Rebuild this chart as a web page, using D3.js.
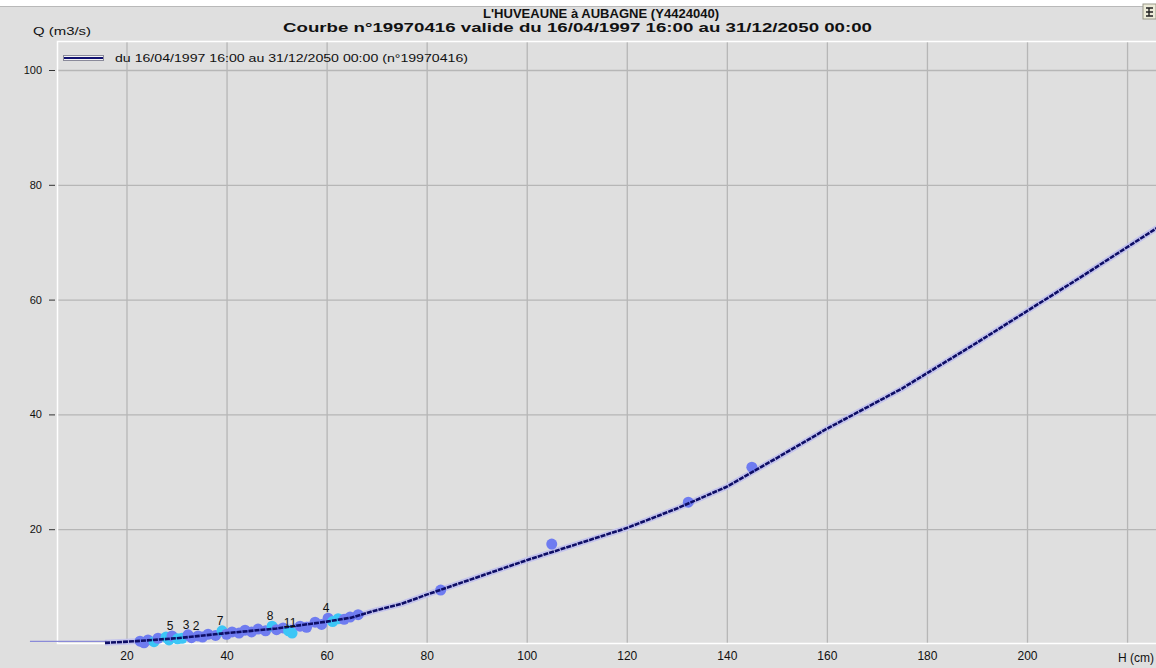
<!DOCTYPE html>
<html>
<head>
<meta charset="utf-8">
<script src="https://cdn.jsdelivr.net/npm/d3@7/dist/d3.min.js"></script>
<style>
  html, body { margin: 0; padding: 0; background: #dfdfdf; }
  svg { display: block; }
  text { font-family: "Liberation Sans", Arial, sans-serif; fill: #111; }
</style>
</head>
<body>
<svg id="chart" width="1156" height="668"></svg>
<script>
// Rating curve (hauteur H en cm -> débit Q en m3/s)
const curveH = [15.7, 22, 30, 40, 50, 60, 65, 70, 75, 80, 90, 100, 110, 120, 130, 140, 150, 160, 175, 190, 200, 210, 226];
const curveQ = [0.2, 0.5, 1.0, 1.9, 2.7, 3.9, 4.6, 5.9, 7.0, 8.6, 11.6, 14.6, 17.4, 20.2, 23.6, 27.4, 32.4, 37.5, 44.5, 52.5, 58.0, 63.5, 72.5];

// low-water extension of the curve
const extH = [0.7, 16];
const extQ = [0.45, 0.45];

// Jaugeages (gaugings): H, Q, kind, number
const gaugeH = [22.7, 23.5, 24.3, 25.5, 26.3, 27.9, 28.5, 29.1, 30.2, 31.1, 32.3, 33.0, 34.3, 35.2, 36.3, 37.8, 39.1, 40.0, 41.1, 42.5, 43.7, 45.0, 46.3, 47.8, 49.1, 50.0, 51.3, 52.4, 53.1, 54.7, 56.0, 57.7, 59.0, 60.3, 61.2, 62.3, 63.5, 64.7, 66.3, 82.8, 105.0, 132.3, 145.0];
const gaugeQ = [0.5, 0.2, 0.7, 0.4, 1.0, 1.2, 0.7, 1.4, 0.9, 1.0, 1.6, 1.1, 1.4, 1.2, 1.7, 1.5, 2.3, 1.7, 2.1, 1.9, 2.4, 2.1, 2.6, 2.3, 3.1, 2.5, 2.8, 2.3, 1.9, 3.1, 2.9, 3.8, 3.4, 4.5, 3.9, 4.4, 4.3, 4.7, 5.1, 9.4, 17.4, 24.7, 30.8];
const gaugeKind = ["b","b","b","c","b","c","c","b","c","c","b","b","b","b","b","b","c","b","b","b","b","b","b","b","c","b","b","c","c","b","b","b","b","b","c","c","b","b","b","b","b","b","b"];
const gaugeLabel = ["","","","","","","","5","","","3","","2","","","","7","","","","","","","","8","","","","11","","","","","4","","","","","","","","",""];

const xTicks = [20, 40, 60, 80, 100, 120, 140, 160, 180, 200];
const xGrid = [20, 40, 60, 80, 100, 120, 140, 160, 180, 200, 220];
const yTicks = [20, 40, 60, 80, 100];

const titleLine1 = "L'HUVEAUNE à AUBAGNE  (Y4424040)";
const titleLine2 = "Courbe n°19970416 valide du 16/04/1997 16:00 au 31/12/2050 00:00";
const legendText = "du 16/04/1997 16:00 au 31/12/2050 00:00 (n°19970416)";
const yTitle = "Q (m3/s)";
const xTitle = "H (cm)";

const svg = d3.select("#chart");
const W = 1156, H = 668;
const plot = { left: 57, top: 41, right: 1156, bottom: 643 };

const x = d3.scaleLinear().domain([20, 200]).range([126.5, 1027]);
const y = d3.scaleLinear().domain([0, 100]).range([644, 70]);

// window background
svg.append("rect").attr("width", W).attr("height", H).attr("fill", "#dfdfdf");
svg.append("rect").attr("width", W).attr("height", 6).attr("fill", "#ffffff");
svg.append("line").attr("x1", 0).attr("x2", W).attr("y1", 6.5).attr("y2", 6.5)
  .attr("stroke", "#b9b9b9");

// titles
svg.append("text").attr("x", 483).attr("y", 18).attr("font-size", 12.5).attr("font-weight", "bold")
  .attr("textLength", 236).attr("lengthAdjust", "spacingAndGlyphs").text(titleLine1);
svg.append("text").attr("x", 283).attr("y", 32).attr("font-size", 12.5).attr("font-weight", "bold")
  .attr("textLength", 589).attr("lengthAdjust", "spacingAndGlyphs").text(titleLine2);
svg.append("text").attr("x", 33).attr("y", 35).attr("font-size", 11)
  .attr("textLength", 58).attr("lengthAdjust", "spacingAndGlyphs").text(yTitle);

// small toolbar icon, top right
const icon = svg.append("g").attr("transform", "translate(1143,4)");
icon.append("rect").attr("width", 13).attr("height", 15).attr("fill", "#ecebd8").attr("stroke", "#9a9a8a");
icon.append("path").attr("d", "M3,4 H10 M6,4 V12 M3,8 H10 M3,12 H10").attr("stroke", "#222").attr("stroke-width", 1.4).attr("fill", "none");

// gridlines
const gGrid = svg.append("g");
gGrid.append("g").attr("transform", `translate(0,${plot.bottom})`)
  .call(d3.axisBottom(x).tickValues(xGrid).tickSize(-(plot.bottom - plot.top)).tickFormat(""))
  .call(g => g.select(".domain").remove())
  .call(g => g.selectAll("line").attr("stroke", "#b6b6b6").attr("stroke-width", 1.3));
gGrid.append("g").attr("transform", `translate(${plot.left},0)`)
  .call(d3.axisRight(y).tickValues(yTicks).tickSize(plot.right - plot.left).tickFormat(""))
  .call(g => g.select(".domain").remove())
  .call(g => g.selectAll("line").attr("stroke", "#b6b6b6").attr("stroke-width", 1.3));

// plot frame (light)
svg.append("path")
  .attr("d", `M${plot.right},${plot.top + 0.5} H${plot.left + 0.5} V${plot.bottom + 0.5} H${plot.right}`)
  .attr("fill", "none").attr("stroke", "#ffffff").attr("stroke-width", 1.5);

// y axis
svg.append("g").attr("transform", "translate(55,0)")
  .call(d3.axisLeft(y).tickValues(yTicks).tickSize(6).tickPadding(7))
  .call(g => g.select(".domain").remove())
  .call(g => g.selectAll("line").attr("stroke", "#333"))
  .call(g => g.selectAll("text").attr("font-size", 11).attr("font-family", "Liberation Sans, Arial, sans-serif").attr("fill", "#111"));

// x axis
svg.append("g").attr("transform", `translate(0,${plot.bottom})`)
  .call(d3.axisBottom(x).tickValues(xTicks).tickSize(0).tickPadding(8))
  .call(g => g.select(".domain").remove())
  .call(g => g.selectAll("text").attr("font-size", 12).attr("font-family", "Liberation Sans, Arial, sans-serif").attr("fill", "#111"));
svg.append("text").attr("x", 1118).attr("y", 662).attr("font-size", 12).text(xTitle);

// legend
svg.append("rect").attr("x", 63.5).attr("y", 55.5).attr("width", 40).attr("height", 5)
  .attr("fill", "#f4f4f4").attr("stroke", "#8a8a9a");
svg.append("line").attr("x1", 64).attr("x2", 103).attr("y1", 58).attr("y2", 58)
  .attr("stroke", "#101070").attr("stroke-width", 2);
svg.append("text").attr("x", 115).attr("y", 62).attr("font-size", 11)
  .attr("textLength", 353).attr("lengthAdjust", "spacingAndGlyphs").text(legendText);

const line = d3.line().x(d => x(d[0])).y(d => y(d[1]));
const curve = curveH.map((h, i) => [h, curveQ[i]]);
const ext = extH.map((h, i) => [h, extQ[i]]);

// curve halo
svg.append("path").datum(curve).attr("d", line).attr("fill", "none")
  .attr("stroke", "#c4c4ec").attr("stroke-width", 6).attr("stroke-linejoin", "round");
svg.append("path").datum(ext).attr("d", line).attr("fill", "none")
  .attr("stroke", "#8a8ad8").attr("stroke-width", 1.2);

// gaugings
const gauges = gaugeH.map((h, i) => ({ h, q: gaugeQ[i], kind: gaugeKind[i], label: gaugeLabel[i] }));
svg.append("g").selectAll("circle").data(gauges).join("circle")
  .attr("cx", d => x(d.h)).attr("cy", d => y(d.q)).attr("r", 5.5)
  .attr("fill", d => d.kind === "c" ? "#3cc6f6" : "#6f7cf0");

// rating curve
svg.append("path").datum(curve).attr("d", line).attr("fill", "none")
  .attr("stroke", "#0e0e66").attr("stroke-width", 2.6).attr("stroke-linejoin", "round")
  .attr("stroke-dasharray", "5,1");

// gauging numbers
svg.append("g").selectAll("text").data(gauges.filter(d => d.label)).join("text")
  .attr("x", d => x(d.h) - 2).attr("y", d => y(d.q) - 6)
  .attr("font-size", 12).attr("text-anchor", "middle").text(d => d.label);
</script>
</body>
</html>
